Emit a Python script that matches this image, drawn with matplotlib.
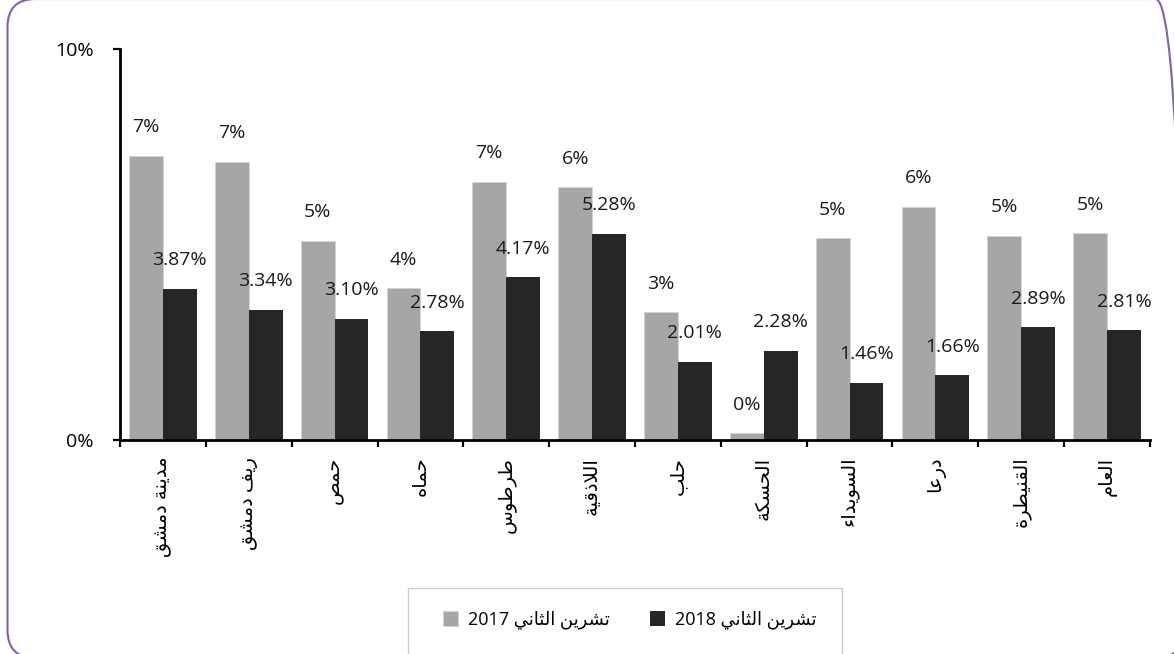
import matplotlib
matplotlib.use('Agg')
import matplotlib.pyplot as plt
from matplotlib.patches import FancyBboxPatch, Rectangle
import numpy as np

plt.rcParams['font.family'] = ['Open Sans', 'DejaVu Sans']

regions = ['مدينة دمشق', 'ريف دمشق', 'حمص', 'حماه', 'طرطوس', 'اللاذقية',
           'حلب', 'الحسكة', 'السويداء', 'درعا', 'القنيطرة', 'العام']
nov_2017 = [7.28, 7.13, 5.10, 3.88, 6.61, 6.47, 3.27, 0.17, 5.17, 5.97, 5.23, 5.29]
nov_2018 = [3.87, 3.34, 3.10, 2.78, 4.17, 5.28, 2.01, 2.28, 1.46, 1.66, 2.89, 2.81]
month = 'تشرين الثاني'
years = ['2017', '2018']
ytick_vals = [0, 10]
ytick_labels = ['0%', '10%']

# matplotlib has no arabic shaping, so pick presentation forms by hand
FORMS = {
    'ء': ('\uFE80',),
    'ا': ('\uFE8D', '\uFE8E'),
    'ب': ('\uFE8F', '\uFE90', '\uFE91', '\uFE92'),
    'ة': ('\uFE93', '\uFE94'),
    'ت': ('\uFE95', '\uFE96', '\uFE97', '\uFE98'),
    'ث': ('\uFE99', '\uFE9A', '\uFE9B', '\uFE9C'),
    'ح': ('\uFEA1', '\uFEA2', '\uFEA3', '\uFEA4'),
    'د': ('\uFEA9', '\uFEAA'),
    'ذ': ('\uFEAB', '\uFEAC'),
    'ر': ('\uFEAD', '\uFEAE'),
    'س': ('\uFEB1', '\uFEB2', '\uFEB3', '\uFEB4'),
    'ش': ('\uFEB5', '\uFEB6', '\uFEB7', '\uFEB8'),
    'ص': ('\uFEB9', '\uFEBA', '\uFEBB', '\uFEBC'),
    'ط': ('\uFEC1', '\uFEC2', '\uFEC3', '\uFEC4'),
    'ع': ('\uFEC9', '\uFECA', '\uFECB', '\uFECC'),
    'ف': ('\uFED1', '\uFED2', '\uFED3', '\uFED4'),
    'ق': ('\uFED5', '\uFED6', '\uFED7', '\uFED8'),
    'ك': ('\uFED9', '\uFEDA', '\uFEDB', '\uFEDC'),
    'ل': ('\uFEDD', '\uFEDE', '\uFEDF', '\uFEE0'),
    'م': ('\uFEE1', '\uFEE2', '\uFEE3', '\uFEE4'),
    'ن': ('\uFEE5', '\uFEE6', '\uFEE7', '\uFEE8'),
    'ه': ('\uFEE9', '\uFEEA', '\uFEEB', '\uFEEC'),
    'و': ('\uFEED', '\uFEEE'),
    'ي': ('\uFEF1', '\uFEF2', '\uFEF3', '\uFEF4'),
}


def dual(c):
    return c in FORMS and len(FORMS[c]) == 4


def joining(c):
    return c in FORMS and len(FORMS[c]) >= 2


def shape(s):
    out = []
    i = 0
    while i < len(s):
        c = s[i]
        prev = s[i - 1] if i > 0 else ''
        nxt = s[i + 1] if i + 1 < len(s) else ''
        if c not in FORMS:
            out.append(c)
            i += 1
            continue
        p = dual(prev)
        if c == 'ل' and nxt == 'ا':
            out.append('\uFEFC' if p else '\uFEFB')
            i += 2
            continue
        n = dual(c) and joining(nxt)
        f = FORMS[c]
        if len(f) == 1:
            out.append(f[0])
        elif p and n:
            out.append(f[3])
        elif p:
            out.append(f[1])
        elif n:
            out.append(f[2])
        else:
            out.append(f[0])
        i += 1
    return ''.join(reversed(out))


fig = plt.figure(figsize=(11.74, 6.54), dpi=100)
ax = fig.add_axes([120 / 1174, 1 - 440 / 654, 1030 / 1174, (440 - 49.5) / 654])

x = np.arange(len(regions))
w = 0.395
b1 = ax.bar(x - w, nov_2017, w, align='edge', color='#a6a6a6',
            edgecolor='#d4d4d4', linewidth=0.6)
b2 = ax.bar(x, nov_2018, w, align='edge', color='#262626')

for i in range(len(regions)):
    ax.annotate(f'{nov_2017[i]:.0f}%', (x[i] - w / 2, nov_2017[i]), xytext=(0, 17),
                textcoords='offset points', ha='center', va='baseline', fontsize=14,
                color='#1a1a1a')
    ax.annotate(f'{nov_2018[i]:.2f}%', (x[i] + w / 2, nov_2018[i]), xytext=(0, 17),
                textcoords='offset points', ha='center', va='baseline', fontsize=14,
                color='#1a1a1a')

ax.set_xlim(-0.5, len(regions) - 0.5)
ax.set_ylim(0, 10)
ax.set_yticks(ytick_vals)
ax.set_yticklabels(ytick_labels)
ax.set_xticks(x)
ax.set_xticklabels([shape(r) for r in regions], rotation=90)
ax.set_xticks(np.arange(len(regions) + 1) - 0.5, minor=True)

for s in ['top', 'right']:
    ax.spines[s].set_visible(False)
for s in ['left', 'bottom']:
    ax.spines[s].set_linewidth(2)
ax.tick_params(axis='y', length=5, width=1.6, pad=14, labelsize=14)
ax.tick_params(axis='x', which='major', length=0, pad=12, labelsize=14)
ax.tick_params(axis='x', which='minor', length=5, width=1.6)

leg_labels = [f'{y} {shape(month)}' for y in years]
fig.legend([b1, b2], leg_labels, loc='center left',
           bbox_to_anchor=(443 / 1174, 1 - 620 / 654), ncol=2, frameon=False,
           borderpad=0, borderaxespad=0, handlelength=0.85, handleheight=0.85,
           handletextpad=0.55, columnspacing=2.2, fontsize=13)

# legend frame (runs off the bottom like the original)
fig.add_artist(Rectangle((4.08, -0.10), 4.34, 0.76, transform=fig.dpi_scale_trans,
                         fill=False, edgecolor='#cdc6df', linewidth=1.0))

# outer rounded border
fig.add_artist(FancyBboxPatch((0.075, -0.04), 11.76, 6.59,
                              boxstyle='round,pad=0,rounding_size=0.28',
                              transform=fig.dpi_scale_trans, fill=False,
                              edgecolor='#8064a2', linewidth=1.5))

fig.savefig('out.png', dpi=100)
